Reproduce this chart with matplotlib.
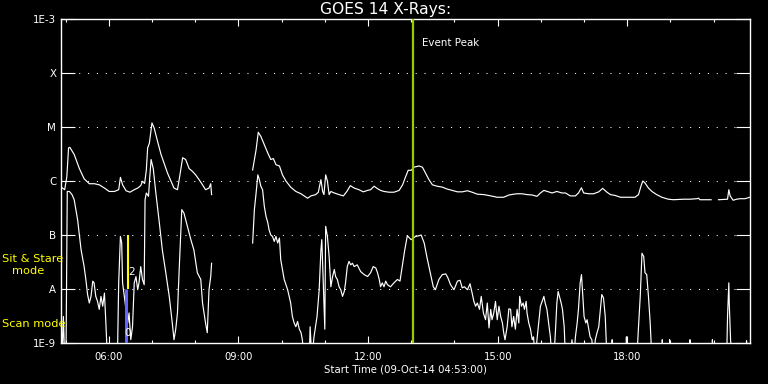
import numpy as np
import matplotlib
matplotlib.use('Agg')
import matplotlib.pyplot as plt
from matplotlib.ticker import FixedLocator, FixedFormatter, NullFormatter

nan = np.nan

# GOES 14 long channel (1-8 A), time in hours of 09-Oct-14, flux W/m^2
long_t = [4.90, 4.98, 5.03, 5.07, 5.10, 5.20, 5.32, 5.43, 5.55, 5.67, 5.78, 5.90, 6.01, 6.13,
          6.23, 6.27, 6.32, 6.40, 6.49, 6.59, 6.67, 6.74, 6.78, 6.83, 6.87, 6.90, 6.94, 7.00,
          7.05, 7.13, 7.21, 7.28, 7.36, 7.44, 7.51, 7.59, 7.63, 7.71, 7.78, 7.86, 7.94, 8.01,
          8.09, 8.17, 8.24, 8.32, 8.36, 8.38, nan,
          9.33, 9.41, 9.46, 9.52, 9.60, 9.68, 9.75, 9.81, 9.87, 9.95, 10.02, 10.10, 10.21,
          10.33, 10.45, 10.52, 10.60, 10.68, 10.79, 10.85, 10.91, 10.95, 10.98, 11.02, 11.06,
          11.10, 11.14, 11.22, 11.33, 11.43, 11.51, 11.59, 11.68, 11.79, 11.89, 11.99,
          12.06, 12.14, 12.22, 12.29, 12.37, 12.49, 12.60, 12.72, 12.80, 12.87, 12.93, 13.00,
          13.06, 13.18, 13.26, 13.33, 13.41, 13.49, 13.60, 13.72, 13.83, 13.95, 14.07, 14.18,
          14.30, 14.41, 14.53, 14.68, 14.84, 14.99, 15.14, 15.26, 15.37,
          15.45, 15.56, 15.68, 15.80, 15.91, 15.99, 16.07, 16.18, 16.26, 16.37, 16.49, 16.57,
          16.68, 16.80, 16.87, 16.94, 16.99, 17.11, 17.22, 17.34, 17.43, 17.53, 17.61, 17.72,
          17.84, 17.99, 18.18, 18.26, 18.32, 18.36, 18.41, 18.49, 18.57, 18.68, 18.80, 18.91,
          18.95, 19.07, 19.30, 19.45, 19.61, 19.65, 19.68, 19.94, nan,
          20.11, 20.32, 20.35, 20.38, 20.45, 20.53, 20.61, 20.72, 20.84]
long_f = [7.7e-7, 6.9e-7, 1.2e-6, 4.1e-6, 4.2e-6, 3.1e-6, 1.7e-6, 1.1e-6, 8.9e-7, 8.9e-7, 8.5e-7,
          7.4e-7, 6.4e-7, 6.4e-7, 6.9e-7, 1.17e-6, 8.5e-7, 6.6e-7, 6.2e-7, 6.9e-7, 7.4e-7,
          8.2e-7, 9.9e-7, 9.0e-7, 1.6e-6, 4.1e-6, 5.0e-6, 1.19e-5, 9.6e-6, 5.4e-6, 3.1e-6,
          2.15e-6, 1.4e-6, 1.0e-6, 7.4e-7, 6.9e-7, 1.06e-6, 2.7e-6, 2.5e-6, 1.7e-6, 1.5e-6,
          1.3e-6, 1.06e-6, 8.5e-7, 6.9e-7, 7.4e-7, 8.9e-7, 5.6e-7, nan,
          1.6e-6, 3.8e-6, 8.0e-6, 6.7e-6, 4.7e-6, 3.3e-6, 2.5e-6, 2.6e-6, 2.0e-6, 1.9e-6,
          1.3e-6, 1.0e-6, 7.7e-7, 6.4e-7, 5.8e-7, 5.3e-7, 4.8e-7, 5.3e-7, 5.6e-7, 6.2e-7,
          1.06e-6, 6.4e-7, 5.6e-7, 1.3e-6, 1.0e-6, 5.6e-7, 6.4e-7, 6.0e-7, 5.6e-7, 5.3e-7,
          6.4e-7, 8.2e-7, 7.4e-7, 6.9e-7, 6.3e-7, 6.7e-7,
          6.9e-7, 8.0e-7, 7.2e-7, 6.7e-7, 6.4e-7, 6.2e-7, 6.2e-7, 6.7e-7, 8.5e-7, 1.2e-6,
          1.58e-6, 1.58e-6, 1.8e-6, 1.9e-6, 1.8e-6, 1.4e-6, 1.06e-6, 8.5e-7, 8.0e-7, 7.7e-7,
          7.1e-7, 6.7e-7, 6.3e-7, 6.3e-7, 6.6e-7, 6.2e-7, 5.7e-7, 5.6e-7, 5.3e-7, 5.0e-7,
          5.0e-7, 5.5e-7, 5.7e-7,
          5.8e-7, 5.8e-7, 5.6e-7, 5.5e-7, 5.2e-7, 6.0e-7, 6.7e-7, 6.3e-7, 6.0e-7, 6.4e-7,
          6.0e-7, 6.0e-7, 5.3e-7, 5.3e-7, 6.0e-7, 7.5e-7, 6.0e-7, 5.8e-7, 5.8e-7, 6.3e-7,
          7.3e-7, 6.2e-7, 5.6e-7, 5.4e-7, 5.0e-7, 5.0e-7, 5.0e-7, 5.6e-7, 8.2e-7, 1.0e-6,
          9.2e-7, 7.4e-7, 6.4e-7, 5.6e-7, 5.0e-7, 4.7e-7,
          4.6e-7, 4.5e-7, 4.6e-7, 4.6e-7, 4.7e-7, 4.8e-7, 4.5e-7, 4.5e-7, nan,
          4.5e-7, 4.6e-7, 6.9e-7, 5.3e-7, 4.4e-7, 4.6e-7, 4.7e-7, 4.7e-7, 5.0e-7]

# GOES 14 short channel (0.5-4 A)
short_t = [4.90, 4.92, 4.95, 4.98, 5.01, 5.04, 5.09, 5.15, 5.20, 5.28, 5.36, 5.43, 5.47, 5.51,
           5.55, 5.59, 5.63, 5.66, 5.70, 5.74, 5.78, 5.82, 5.86, 5.90, 5.93, 5.97, 6.20, 6.23,
           6.27, 6.30, 6.32, 6.36, 6.40, 6.44, 6.47, 6.51, 6.55, 6.59, 6.63, 6.67, 6.70, 6.74,
           6.78, 6.82, 6.84, 6.87, 6.92, 6.95, 6.98, 7.03, 7.09, 7.17, 7.24, 7.32, 7.40, 7.47,
           7.51, 7.55, 7.59, 7.63, 7.69, 7.74, 7.82, 7.90, 7.97, 8.05, 8.13, 8.17, 8.24, 8.28,
           8.32, 8.36, 8.38, nan,
           9.33, 9.37, 9.41, 9.45, 9.48, 9.52, 9.56, 9.60, 9.64, 9.68, 9.71, 9.75, 9.79, 9.83,
           9.87, 9.91, 9.95, 9.98, 10.06, 10.14, 10.21, 10.25, 10.29, 10.33, 10.37, 10.41,
           10.45, 10.48, 10.52, 10.64, 10.66, 10.70, 10.75, 10.82, 10.87, 10.91, 10.93, 10.96,
           11.00, 11.02, 11.06, 11.10, 11.14, 11.18, 11.22, 11.25, 11.29, 11.33, 11.37, 11.41,
           11.45, 11.48, 11.52, 11.56, 11.60, 11.64, 11.68, 11.75, 11.83, 11.91, 11.99,
           12.06, 12.12, 12.18, 12.22, 12.26, 12.29, 12.33, 12.37, 12.41, 12.45, 12.52, 12.60,
           12.68, 12.74, 12.79, 12.85, 12.91, 12.96, 13.00, 13.05, 13.10, 13.18, 13.23, 13.30,
           13.36, 13.41, 13.46, 13.51, 13.56, 13.64, 13.72, 13.80, 13.85, 13.91, 13.99, 14.07,
           14.13, 14.18, 14.23, 14.30, 14.36, 14.41, 14.45, 14.49, 14.53, 14.58, 14.62, 14.67,
           14.72, 14.76, 14.80, 14.84, 14.87, 14.91, 14.95, 14.99, 15.03, 15.07, 15.11, 15.14,
           15.17, 15.22, 15.26,
           15.30, 15.33, 15.37, 15.41, 15.45, 15.49, 15.51, 15.55, 15.59, 15.62, 15.66, 15.68,
           15.72, 15.76, 15.80, 15.83, 15.87, 15.91, 15.95, 15.99, 16.03, 16.07, 16.10, 16.14,
           16.18, 16.22, 16.26, 16.30, 16.34, 16.37, 16.40, 16.43, 16.47, 16.50, 16.54, 16.57,
           16.68, 16.72, 16.76, 16.80, 16.84, 16.87, 16.91, 16.94, 16.97, 17.00, 17.04, 17.07,
           17.11, 17.14, 17.18, 17.22, 17.26, 17.30, 17.34, 17.37, 17.41, 17.45, 17.49, 17.53,
           17.64, 17.65, 17.66, 17.97, 17.98, 17.99, 18.22, 18.26, 18.30, 18.34, 18.38, 18.41,
           18.45, 18.49, 18.53, 18.57,
           18.80, 18.81, 18.82, 18.97, 18.98, 18.99, 19.44, 19.45, 19.46, 19.96, 19.97, 19.98,
           20.30, 20.32, 20.35, 20.36, 20.39, 20.42, 20.75, 20.76, 20.77, 20.84]
short_f = [4.2e-9, 5e-10, 3.1e-9, 5e-10, 5e-10, 6.4e-7, 6.4e-7, 5.6e-7, 4.5e-7, 1.9e-7, 5.3e-8,
           2.6e-8, 1.5e-8, 7.9e-9, 5.5e-9, 7.3e-9, 1.4e-8, 1.3e-8, 7.3e-9, 5.9e-9, 4.2e-9,
           7.3e-9, 4.8e-9, 8.4e-9, 2.7e-9, 5e-10, 5e-10, 1.3e-8, 9.4e-8, 7.1e-8, 1.3e-8, 7.3e-9,
           4.2e-9, 2.35e-9, 3.6e-9, 1.15e-9, 2.0e-9, 1.3e-8, 1.7e-8, 9.7e-9, 1.3e-8, 2.6e-8,
           1.5e-8, 1.2e-8, 4.5e-7, 6.0e-7, 5.2e-7, 1.2e-6, 2.5e-6, 1.7e-6, 6.0e-7, 1.7e-7,
           5.3e-8, 2.0e-8, 7.3e-9, 2.35e-9, 1.15e-9, 1.8e-9, 3.6e-9, 2.3e-8, 2.95e-7, 2.55e-7,
           1.45e-7, 8.2e-8, 5.3e-8, 2.0e-8, 1.5e-8, 5.5e-9, 2.35e-9, 1.55e-9, 9.7e-9, 1.7e-8,
           3.0e-8, nan,
           7.1e-8, 2.95e-7, 6.0e-7, 1.3e-6, 1.1e-6, 8.0e-7, 6.9e-7, 3.4e-7, 2.2e-7, 1.7e-7,
           1.25e-7, 1.0e-7, 9.4e-8, 7.6e-8, 9.4e-8, 7.1e-8, 8.8e-8, 3.5e-8, 1.5e-8, 9.7e-9,
           5.5e-9, 3.1e-9, 2.35e-9, 2.0e-9, 2.5e-9, 1.8e-9, 1.55e-9, 1.15e-9, 5e-10, 5e-10,
           2.0e-9, 5e-10, 1.3e-9, 3.1e-9, 9.7e-9, 5.3e-8, 8.2e-8, 1.7e-8, 1.8e-9, 1.45e-7,
           9.4e-8, 4.0e-8, 1.1e-8, 1.7e-8, 2.3e-8, 1.7e-8, 1.5e-8, 1.1e-8, 9.7e-9, 7.3e-9,
           9.0e-9, 1.3e-8, 2.6e-8, 3.25e-8, 2.8e-8, 3.0e-8, 2.6e-8, 2.8e-8, 2.1e-8, 1.85e-8,
           1.7e-8,
           2.0e-8, 2.6e-8, 2.45e-8, 2.0e-8, 1.5e-8, 1.1e-8, 1.3e-8, 1.1e-8, 1.4e-8, 1.2e-8,
           1.1e-8, 1.3e-8, 1.5e-8, 1.4e-8, 2.6e-8, 5.3e-8, 9.7e-8, 8.8e-8, 8.2e-8, 8.8e-8,
           9.4e-8, 9.7e-8, 1.0e-7, 7.1e-8, 4.0e-8, 2.6e-8, 1.7e-8, 1.1e-8, 9.7e-9, 1.5e-8,
           1.85e-8, 1.9e-8, 1.6e-8, 1.2e-8, 9.7e-9, 1.4e-8, 1.45e-8, 1.05e-8, 1.1e-8, 9.7e-9,
           1.25e-8, 8.4e-9, 5.9e-9, 4.8e-9, 5.5e-9, 4.2e-9, 7.3e-9, 3.6e-9, 2.7e-9, 5.5e-9,
           1.9e-9, 4.2e-9, 2.7e-9, 3.6e-9, 5.9e-9, 2.7e-9, 4.8e-9, 3.1e-9, 2.35e-9, 1.55e-9,
           1.15e-9, 2.0e-9, 4.3e-9,
           4.2e-9, 2.0e-9, 3.1e-9, 1.8e-9, 4.2e-9, 2.35e-9, 7.3e-9, 4.8e-9, 5.5e-9, 4.2e-9,
           5.9e-9, 3.6e-9, 2.35e-9, 1.8e-9, 1.15e-9, 1.3e-9, 5e-10, 1.15e-9, 2.35e-9, 4.8e-9,
           5.9e-9, 7.3e-9, 5.5e-9, 4.2e-9, 2.35e-9, 1.3e-9, 5e-10, 5e-10, 1.8e-9, 5.5e-9,
           9.0e-9, 7.3e-9, 5.5e-9, 4.2e-9, 2.0e-9, 5e-10, 5e-10, 1.15e-9, 5e-10, 1.3e-9,
           2.35e-9, 4.2e-9, 1.3e-8, 1.85e-8, 7.3e-9, 3.1e-9, 2.35e-9, 2.7e-9, 1.8e-9, 1.3e-9,
           1.15e-9, 5e-10, 1.15e-9, 1.55e-9, 2.0e-9, 3.6e-9, 7.9e-9, 6.8e-9, 3.1e-9, 5e-10,
           5e-10, 1.15e-9, 5e-10, 5e-10, 1.3e-9, 5e-10, 5e-10, 2.0e-9, 7.3e-9, 4.6e-8, 4.0e-8,
           2.0e-8, 1.85e-8, 7.3e-9, 2.35e-9, 5e-10,
           5e-10, 1.15e-9, 5e-10, 5e-10, 1.15e-9, 5e-10, 5e-10, 1.15e-9, 5e-10, 5e-10,
           1.15e-9, 5e-10, 5e-10, 3.1e-9, 1.3e-8, 5.5e-9, 1.15e-9, 5e-10, 5e-10, 1.1e-9,
           5e-10, 5e-10]

y_levels = [1e-9, 1e-8, 1e-7, 1e-6, 1e-5, 1e-4, 1e-3]
y_labels = ['1E-9', 'A', 'B', 'C', 'M', 'X', '1E-3']
x_major = [6, 9, 12, 15, 18]
x_major_labels = ['06:00', '09:00', '12:00', '15:00', '18:00']
x_minor = [5, 7, 8, 10, 11, 13, 14, 16, 17, 19, 20]
t_start = 4 + 53 / 60
t_end = 20.84
event_peak_t = 13.03
scan_t = 6.39
scan_range = [1e-9, 1e-8]
sit_t = 6.455
sit_range = [1e-8, 1e-7]

W, H = 768, 384
fig = plt.figure(figsize=(W / 100, H / 100), dpi=100, facecolor='black')
ax = fig.add_axes([60.5 / W, 41 / H, 689.5 / W, 324 / H])
ax.set_facecolor('black')
ax.set_yscale('log')
ax.set_ylim(1e-9, 1e-3)
ax.set_xlim(t_start, t_end)

for s in ax.spines.values():
    s.set_color('white')
    s.set_linewidth(1.0)

ax.yaxis.set_major_locator(FixedLocator(y_levels))
ax.yaxis.set_major_formatter(FixedFormatter(y_labels))
ax.yaxis.set_minor_locator(FixedLocator([]))
ax.yaxis.set_minor_formatter(NullFormatter())
ax.tick_params(axis='y', which='major', direction='in', length=10, width=0.8,
               colors='white', left=True, right=True, labelsize=7.4, pad=3)

ax.xaxis.set_major_locator(FixedLocator(x_major))
ax.xaxis.set_major_formatter(FixedFormatter(x_major_labels))
ax.xaxis.set_minor_locator(FixedLocator(x_minor))
ax.tick_params(axis='x', which='major', direction='in', length=4.7, width=0.8,
               colors='white', top=True, bottom=True, labelsize=7.2, pad=6.5)
ax.tick_params(axis='x', which='minor', direction='in', length=2.5, width=0.8,
               colors='white', top=True, bottom=True)

for lv in y_levels[1:-1]:
    ax.axhline(lv, color='white', lw=0.75, linestyle=(0, (1, 7.5)), zorder=1)

ax.plot(long_t, long_f, color='white', lw=0.85, zorder=3)
ax.plot(short_t, short_f, color='white', lw=0.85, zorder=3)

ax.vlines(scan_t, scan_range[0], scan_range[1], color='#6464ff', lw=2.2, zorder=4)
ax.vlines(sit_t, sit_range[0], sit_range[1], color='#ffff00', lw=1.5, zorder=4)
ax.axvline(event_peak_t, color='#99cc00', lw=1.6, zorder=5)

def fx(px):
    return px / W

def fy(py):
    return 1 - py / H

fig.text(fx(386), fy(9.5), 'GOES 14 X-Rays:', color='white', fontsize=11.2,
         ha='center', va='center')
fig.text(fx(405), fy(370), 'Start Time (09-Oct-14 04:53:00)', color='white', fontsize=7.3,
         ha='center', va='center')
fig.text(fx(422), fy(43), 'Event Peak', color='white', fontsize=7.4, ha='left', va='center')
fig.text(fx(2), fy(259), 'Sit & Stare', color='#ffff00', fontsize=8.2, ha='left', va='center')
fig.text(fx(12), fy(271), 'mode', color='#ffff00', fontsize=8.2, ha='left', va='center')
fig.text(fx(2), fy(324), 'Scan mode', color='#ffff00', fontsize=8.2, ha='left', va='center')
fig.text(fx(132), fy(272), '2', color='white', fontsize=7.5, ha='center', va='center')
fig.text(fx(128), fy(333), '0', color='white', fontsize=7.5, ha='center', va='center')

fig.savefig('out.png', dpi=100, facecolor='black')
